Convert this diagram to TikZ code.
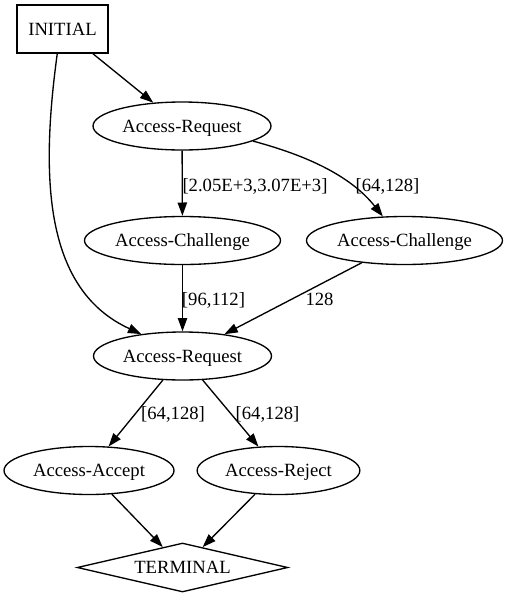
\documentclass[tikz,border=0pt]{standalone}
\usepackage{fontspec}
\setmainfont{Liberation Serif}
\usetikzlibrary{shapes.geometric,arrows.meta}
\begin{document}
\begin{tikzpicture}[x=0.75pt,y=-0.75pt,
  every node/.style={font=\fontsize{14pt}{16pt}\selectfont, inner sep=0pt, text height=9.6pt, text depth=0pt},
  state/.style={ellipse, draw, line width=1pt, minimum height=36pt},
  edge/.style={draw, line width=1pt, -{Triangle[length=10pt,width=7pt]}},
  lbl/.style={}]
\useasboundingbox (0,0) rectangle (508,597);
\node[draw, line width=1pt, minimum width=68.25pt, minimum height=36pt] (init) at (62.5,29) {INITIAL};
\node[state, minimum width=133.5pt] (req1) at (182,126) {Access-Request};
\node[state, minimum width=147pt] (chal1) at (182.5,240.5) {Access-Challenge};
\node[state, minimum width=147pt] (chal2) at (404.5,240.5) {Access-Challenge};
\node[state, minimum width=133.5pt] (req2) at (182.5,356) {Access-Request};
\node[state, minimum width=127.5pt] (acc) at (89,470.5) {Access-Accept};
\node[state, minimum width=122pt] (rej) at (278.5,470.5) {Access-Reject};
\node[diamond, draw, line width=1pt, aspect=4.3, minimum width=158pt, minimum height=36.75pt] (term) at (182.5,567.5) {TERMINAL};

\draw[edge] (init) -- (req1);
\draw[edge] (init.258) .. controls (40,180) and (45,290) .. (req2.152);
\draw[edge] (req1) -- (chal1);
\draw[edge] (req1.-12) .. controls (305,155) and (350,175) .. (chal2.132);
\draw[edge] (chal1) -- (req2);
\draw[edge] (chal2) -- (req2);
\draw[edge] (req2) -- (acc);
\draw[edge] (req2) -- (rej);
\draw[edge] (acc) -- (term);
\draw[edge] (rej) -- (term);

\node[lbl] (l1) at (255,185) {[2.05E+3,3.07E+3]};
\node[lbl] (l2) at (387.5,185) {[64,128]};
\node[lbl] (l3) at (213.5,299) {[96,112]};
\node[lbl] (l4) at (319.5,299) {128};
\node[lbl] (l5) at (173,413) {[64,128]};
\node[lbl] (l6) at (267.5,413) {[64,128]};
\end{tikzpicture}
\end{document}
